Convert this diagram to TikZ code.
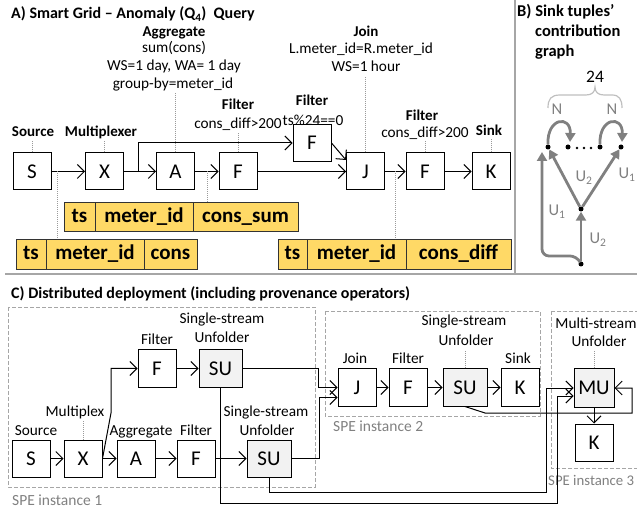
\documentclass[tikz,border=0pt]{standalone}
\usepackage{fontspec}
\setmainfont{Carlito}
\usetikzlibrary{arrows.meta}
\newcommand\myfs[1]{\fontsize{#1}{#1}\selectfont}
\definecolor{cellyellow}{HTML}{FFD966}
\definecolor{sepgray}{HTML}{A6A6A6}
\definecolor{dotgray}{HTML}{9A9A9A}
\definecolor{garrow}{HTML}{808080}
\definecolor{sufill}{HTML}{F2F2F2}
\definecolor{bracegray}{HTML}{BFBFBF}
\begin{document}
\begin{tikzpicture}[x=1pt,y=-1pt,
 opbox/.style={draw, line width=1pt, minimum width=38pt, minimum height=37pt, inner sep=0pt, fill=white, text height=13.5pt, text depth=0pt, font=\myfs{21}},
 ubox/.style={opbox, fill=sufill, minimum width=44pt},
 cell/.style={draw=black!80, line width=1pt, fill=cellyellow, minimum height=30pt, inner sep=0pt, text height=14pt, text depth=4pt, font=\bfseries\myfs{21}},
 blab/.style={inner sep=0pt, text height=10pt, text depth=3pt, font=\bfseries\myfs{15}},
 rlab/.style={inner sep=0pt, text height=10pt, text depth=3pt, font=\myfs{15.3}},
 ttl/.style={inner sep=0pt, anchor=west, text height=11pt, text depth=3pt, font=\bfseries\myfs{16}},
 arr/.style={line width=1pt, -{Straight Barb[length=7pt,width=14pt]}},
 dotl/.style={draw=dotgray, line width=1pt, dash pattern=on 1pt off 1pt},
 spe/.style={draw=sepgray, line width=0.8pt, dash pattern=on 4pt off 2pt},
 spelab/.style={inner sep=0pt, anchor=west, text=gray, text height=10pt, text depth=3pt, font=\myfs{15.5}},
 gdot/.style={circle, fill=black, inner sep=0pt, minimum size=5pt},
 garr/.style={draw=garrow, line width=2.8pt, -{Triangle[length=9pt,width=10pt]}},
 glab/.style={inner sep=0pt, text=garrow, font=\myfs{16.5}},
]
\useasboundingbox (0,0) rectangle (637,510);
\clip (0,0) rectangle (637,510);

% ---------------- Part A ----------------
\node[ttl] (tA) at (11,15) {A) Smart Grid -- Anomaly (Q\textsubscript{4})\ \ Query};

\node[opbox] (S)  at (32,171.5)   {S};
\node[opbox] (X)  at (104.5,171.5){X};
\node[opbox] (A)  at (175.5,171.5){A};
\node[opbox] (F)  at (238,171.5)  {F};
\node[opbox] (Fu) at (312,143)    {F};
\node[opbox] (J)  at (365.5,171.5){J};
\node[opbox] (F2) at (425,171.5)  {F};
\node[opbox] (K)  at (491,171.5)  {K};

\node[blab] (lSrc) at (33,133)  {Source};
\node[blab] (lMux) at (101,133) {Multiplexer};
\node[blab] (lAgg) at (174,33)  {Aggregate};
\node[rlab] (lAgg1) at (174,49) {sum(cons)};
\node[rlab] (lAgg2) at (174,67) {WS=1 day, WA= 1 day};
\node[rlab] (lAgg3) at (173,85) {group-by=meter\_id};
\node[blab] (lJoin) at (366,33) {Join};
\node[rlab] (lJoin1) at (361,50) {L.meter\_id=R.meter\_id};
\node[rlab] (lJoin2) at (366,68) {WS=1 hour};
\node[blab] (lF1) at (238,106)  {Filter};
\node[rlab] (lF1a) at (238,125) {cons\_diff>200};
\node[blab] (lFu) at (312,102)  {Filter};
\node[rlab] (lFua) at (313,122) {ts\%24==0};
\node[blab] (lF2) at (422,117)  {Filter};
\node[rlab] (lF2a) at (425,134) {cons\_diff>200};
\node[blab] (lSink) at (489,132) {Sink};

\draw[dotl] (S.north) -- ++(0,-12);
\draw[dotl] (X.north) -- ++(0,-12);
\draw[dotl] (A.north) -- ++(0,-60);
\draw[dotl] (F.north) -- ++(0,-19);
\draw[dotl] (J.north) -- ++(0,-76);
\draw[dotl] (F2.north) -- ++(0,-11);
\draw[dotl] (K.north) -- ++(0,-13);

\draw[arr] (S) -- (X);
\draw[arr] (X) -- (A);
\draw[arr] (X.east) -- ++(14,0) |- (Fu.west);
\draw[arr] (A) -- (F);
\draw[arr] (F) -- (J);
\draw[arr] (Fu.east) -- ([yshift=11.5pt]J.west);
\draw[arr] (J) -- (F2);
\draw[arr] (F2) -- (K);

% tuple tables
\node[cell, minimum width=30pt] (c1a) at (31,255)   {ts};
\node[cell, minimum width=98pt] (c1b) at (95,255)   {meter\_id};
\node[cell, minimum width=53pt] (c1c) at (170.5,255){cons};
\node[cell, minimum width=31pt, minimum height=29pt] (c2a) at (79.5,217.5) {ts};
\node[cell, minimum width=98pt, minimum height=29pt] (c2b) at (144,217.5)  {meter\_id};
\node[cell, minimum width=105pt, minimum height=29pt] (c2c) at (245.5,217.5){cons\_sum};
\node[cell, minimum width=29pt] (c3a) at (292.5,255) {ts};
\node[cell, minimum width=99pt] (c3b) at (356.5,255) {meter\_id};
\node[cell, minimum width=105pt] (c3c) at (458.5,255){cons\_diff};

\coordinate (m1) at (57,171.5);
\coordinate (m2) at (207,171.5);
\coordinate (m3) at (395,171.5);
\draw[dotl] (m1) -- (m1 |- c1b.north);
\draw[dotl] (m2) -- (m2 |- c2c.north);
\draw[dotl] (m3) -- (m3 |- c3b.north);

% separators
\draw[sepgray, line width=1.3pt] (515,0) -- (515,273);
\draw[sepgray, line width=1.3pt] (5,274) -- (637,274);

% ---------------- Part B ----------------
\node[ttl, font=\bfseries\myfs{16.5}] (tB1) at (517,13) {B) Sink tuples’};
\node[ttl, font=\bfseries\myfs{16.5}] (tB2) at (535,33) {contribution};
\node[ttl, font=\bfseries\myfs{16.5}] (tB3) at (535,53) {graph};
\node[inner sep=0pt, font=\myfs{17.5}] (n24) at (595,77) {24};
\draw[bracegray, line width=1.2pt] (548,108) .. controls (548,99) and (551,95) .. (560,95) -- (586,95) .. controls (592,95) and (595,92) .. (595,87) .. controls (595,92) and (598,95) .. (604,95) -- (612,95) .. controls (619,95) and (622,99) .. (622,108);
\node[glab] (N1) at (557,109) {N};
\node[glab] (N2) at (612,109) {N};

\node[gdot] (t1) at (548,147) {};
\node[gdot] (t2) at (568,147) {};
\node[gdot] (t3) at (600,147) {};
\node[gdot] (t4) at (621,147) {};
\node[gdot] (gm) at (581,209) {};
\node[gdot] (gb) at (581,264) {};
\fill (577,148) circle (1.3);
\fill (584,148) circle (1.3);
\fill (591,148) circle (1.3);

\draw[garr] (gb) -- (gm);
\draw[garr] (gm) -- (t1);
\draw[garr] (gm) -- (t4);
\coordinate (gl) at (542,152);
\draw[garr, rounded corners=7pt] (gb) -- (577,256) -| (gl);
\draw[garr] (t1) .. controls (547,117) and (571,115) .. (570,142);
\draw[garr] (t3) .. controls (599,117) and (623,115) .. (622,142);

\node[glab] (u1) at (584,178) {U\textsubscript{2}};
\node[glab] (u2) at (627,175) {U\textsubscript{1}};
\node[glab] (u3) at (557,212) {U\textsubscript{1}};
\node[glab] (u4) at (598,240) {U\textsubscript{2}};

% ---------------- Part C ----------------
\node[ttl] (tC) at (11,295) {C) Distributed deployment (including provenance operators)};

\draw[spe] (8,307) rectangle (315,487);
\draw[spe] (325,311) rectangle (540,416);
\draw[spe] (551,311) rectangle (660,468);
\node[spelab] (l1) at (12,502) {SPE instance 1};
\node[spelab] (l2) at (333,428) {SPE instance 2};
\node[spelab, font=\myfs{14.8}] (l3) at (548,482) {SPE instance 3};

\node[opbox] (cS)  at (31,458.5)  {S};
\node[opbox] (cX)  at (83,458.5)  {X};
\node[opbox] (cA)  at (136,458.5) {A};
\node[opbox] (cF)  at (196,458.5) {F};
\node[ubox]  (cSU1) at (269,458.5) {SU};
\node[opbox] (cFu) at (157,368.5) {F};
\node[ubox, minimum width=43pt] (cSU0) at (220.5,368.5) {SU};
\node[opbox] (cJ)  at (357,387.5) {J};
\node[opbox] (cF2) at (408,387.5) {F};
\node[ubox]  (cSU2) at (465,387.5) {SU};
\node[opbox] (cK)  at (520,387.5) {K};
\node[ubox, minimum width=40pt, minimum height=38pt] (cMU) at (594,388) {MU};
\node[opbox] (cK3) at (594,442.5) {K};

\node[rlab] (cl1) at (36,432)  {Source};
\node[rlab] (cl2) at (75,413)  {Multiplex};
\node[rlab] (cl3) at (141,432) {Aggregate};
\node[rlab] (cl4) at (196,432) {Filter};
\node[rlab] (cl5) at (266,413) {Single-stream};
\node[rlab] (cl6) at (267,432) {Unfolder};
\node[rlab] (cl7) at (157,341) {Filter};
\node[rlab] (cl8) at (222,320) {Single-stream};
\node[rlab] (cl9) at (222,339) {Unfolder};
\node[rlab] (cl10) at (355,360) {Join};
\node[rlab] (cl11) at (408,360) {Filter};
\node[rlab] (cl12) at (464,322) {Single-stream};
\node[rlab] (cl13) at (466,342) {Unfolder};
\node[rlab] (cl14) at (518,360) {Sink};
\node[rlab] (cl15) at (596,325) {Multi-stream};
\node[rlab] (cl16) at (599,343) {Unfolder};

\draw[dotl] (cX.north) -- ++(0,-20);
\draw[dotl] (cSU2.north) -- ++(0,-17);
\draw[dotl] (cMU.north) -- ++(0,-18);

\draw[arr] (cS) -- (cX);
\draw[arr] (cX) -- (cA);
\draw[arr] (cX.east) -- (111,413) |- (cFu.west);
\draw[arr] (cA) -- (cF);
\draw[arr] (cF) -- (cSU1);
\draw[arr] (cFu) -- (cSU0);
\draw[arr] (cSU0.east) -- (318,368.5) |- (cJ.west);
\draw[arr] (cSU1.east) -- (319,458.5) |- ([yshift=-10pt]cJ.west);
\draw[arr] (cJ) -- (cF2);
\draw[arr] (cF2) -- (cSU2);
\draw[arr] (cSU2) -- (cK);
\draw[arr] (cSU2.south) -- (485,413) -| (632,388) -- (cMU.east);
\draw[arr] (cSU1.south) |- (546,492) |- (cMU.west);
\draw[arr] (cSU0.south) |- (557,503) |- ([yshift=-8pt]cMU.west);
\draw[arr] (cMU) -- (cK3);
\end{tikzpicture}
\end{document}
